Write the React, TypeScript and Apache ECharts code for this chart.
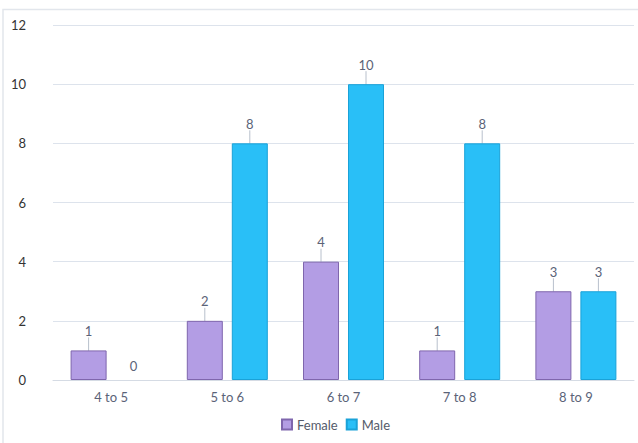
import React, { useEffect, useRef } from "react";
import * as echarts from "echarts";

const categories = ["4 to 5", "5 to 6", "6 to 7", "7 to 8", "8 to 9"];
const femaleValues = [1, 2, 4, 1, 3];
const maleValues = [0, 8, 10, 8, 3];
const yTicks = { min: 0, max: 12, interval: 2 };

const toItems = (vals: number[]) =>
  vals.map((v) =>
    v === 0
      ? {
          value: v,
          itemStyle: { color: "transparent", borderColor: "transparent", borderWidth: 0 },
          labelLine: { show: false },
        }
      : v
  );

export default function App() {
  const ref = useRef<HTMLDivElement>(null);
  useEffect(() => {
    document.body.style.margin = "0";
    const chart = echarts.init(ref.current!, null, { renderer: "svg" });
    const font = "Lato, 'Open Sans', sans-serif";
    const labelCfg = {
      show: true,
      position: "top" as const,
      distance: 2,
      color: "#5b6378",
      fontSize: 13,
      fontFamily: font,
    };
    const layout = (p: any) => ({ dy: p.rect && p.rect.height < 1 ? -6 : -11 });
    chart.setOption({
      animation: false,
      backgroundColor: "#fff",
      textStyle: { fontFamily: font },
      graphic: [
        {
          type: "rect",
          shape: { x: 3, y: 9.5, width: 700, height: 500 },
          style: { fill: "none", stroke: "#e2e6ec", lineWidth: 1.5 },
          silent: true,
          z: -10,
        },
      ],
      grid: { left: 53, right: 4, top: 25, bottom: 63, containLabel: false },
      legend: {
        left: 276,
        bottom: 7,
        icon: "rect",
        itemWidth: 10,
        itemHeight: 10,
        itemGap: 8,
        textStyle: { color: "#555b6a", fontSize: 13, fontFamily: font },
        data: ["Female", "Male"],
      },
      xAxis: {
        type: "category",
        data: categories,
        axisLine: { lineStyle: { color: "#d5dbe4" } },
        axisTick: { show: false },
        axisLabel: { color: "#5b6378", fontSize: 13, margin: 10, fontFamily: font },
      },
      yAxis: {
        type: "value",
        min: yTicks.min,
        max: yTicks.max,
        interval: yTicks.interval,
        axisLine: { show: false },
        axisTick: { show: false },
        axisLabel: { color: "#333", fontSize: 13, margin: 27, fontFamily: font },
        splitLine: { lineStyle: { color: "#dde3ec" } },
      },
      series: [
        {
          name: "Female",
          type: "bar",
          data: toItems(femaleValues),
          barWidth: 36,
          barGap: "25%",
          itemStyle: { color: "#b39de4", borderColor: "#7f66ad", borderWidth: 1 },
          label: labelCfg,
          labelLayout: layout,
          labelLine: { show: true, lineStyle: { color: "#b8c0cc", width: 1 } },
        },
        {
          name: "Male",
          type: "bar",
          data: toItems(maleValues),
          barWidth: 36,
          barGap: "25%",
          itemStyle: { color: "#29bff7", borderColor: "#1aa2d8", borderWidth: 1 },
          label: labelCfg,
          labelLayout: layout,
          labelLine: { show: true, lineStyle: { color: "#b8c0cc", width: 1 } },
        },
      ],
    });
    return () => chart.dispose();
  }, []);
  return <div ref={ref} style={{ width: 638, height: 443 }} />;
}
